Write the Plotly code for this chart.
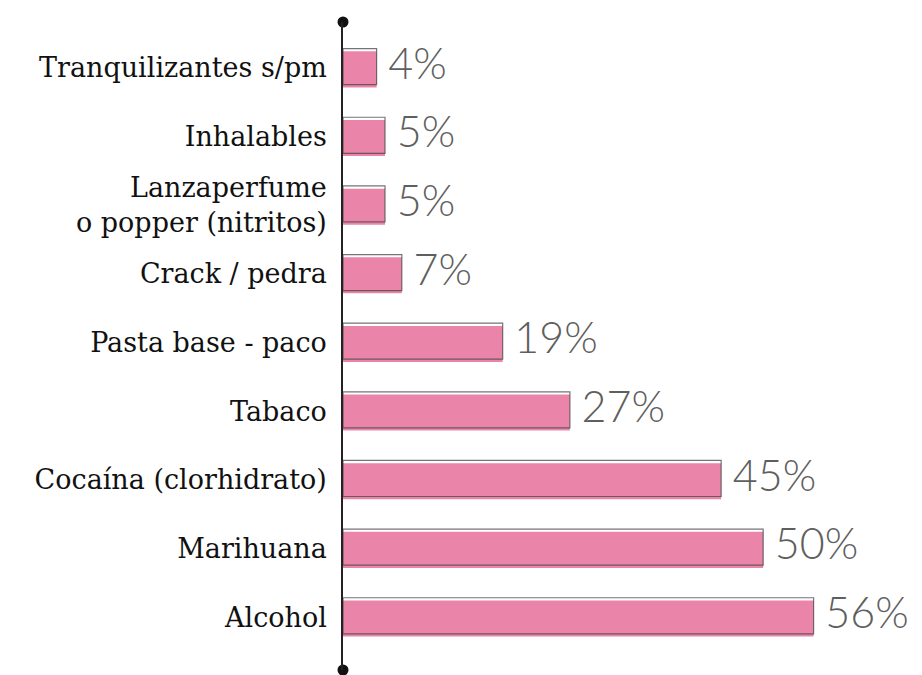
import plotly.graph_objects as go

categories = ["Alcohol", "Marihuana", "Cocaína (clorhidrato)", "Tabaco",
              "Pasta base - paco", "Crack / pedra",
              "Lanzaperfume<br>o popper (nitritos)", "Inhalables",
              "Tranquilizantes s/pm"]
values = [56, 50, 45, 27, 19, 7, 5, 5, 4]
labels = ["56%", "50%", "45%", "27%", "19%", "7%", "5%", "5%", "4%"]

y_range = [-0.77, 8.67]
x_range = [0, 68.9]
bar_w = 0.525

fig = go.Figure()
# pink bars
fig.add_trace(go.Bar(
    y=categories, x=values, orientation="h", width=bar_w,
    offset=-bar_w / 2 - 0.02,
    marker=dict(color="#EB84A9", line=dict(width=0)),
    hoverinfo="skip", showlegend=False,
))
# outline "shadow" box
fig.add_trace(go.Bar(
    y=categories, x=values, orientation="h", width=bar_w,
    offset=-bar_w / 2 + 0.02,
    marker=dict(color="rgba(0,0,0,0)", line=dict(color="rgba(70,70,70,0.75)", width=1.2)),
    hoverinfo="skip", showlegend=False,
))
# value labels
fig.add_trace(go.Scatter(
    y=categories, x=values, mode="text", text=[" " + t for t in labels],
    textposition="middle right",
    textfont=dict(family="Lato", size=43, color="#5f5f5f", weight=300),
    cliponaxis=False, hoverinfo="skip", showlegend=False,
))
# axis end dots
fig.add_trace(go.Scatter(
    x=[0, 0], y=y_range, mode="markers", yaxis="y2",
    marker=dict(size=11, color="#111111"),
    cliponaxis=False, hoverinfo="skip", showlegend=False,
))

fig.update_layout(
    width=922, height=675,
    margin=dict(l=343, r=0, t=22, b=5),
    paper_bgcolor="white", plot_bgcolor="white",
    barmode="overlay",
    xaxis=dict(range=x_range, visible=False, fixedrange=True),
    yaxis=dict(
        type="category", categoryorder="array", categoryarray=categories,
        range=y_range, showline=True, linecolor="#222222", linewidth=1.5,
        ticks="", showgrid=False, zeroline=False, ticklabelstandoff=9,
        tickfont=dict(family="DejaVu Serif", size=27, color="#111111"),
    ),
    yaxis2=dict(range=y_range, overlaying="y", visible=False, fixedrange=True),
)

fig.write_html("out.html")
